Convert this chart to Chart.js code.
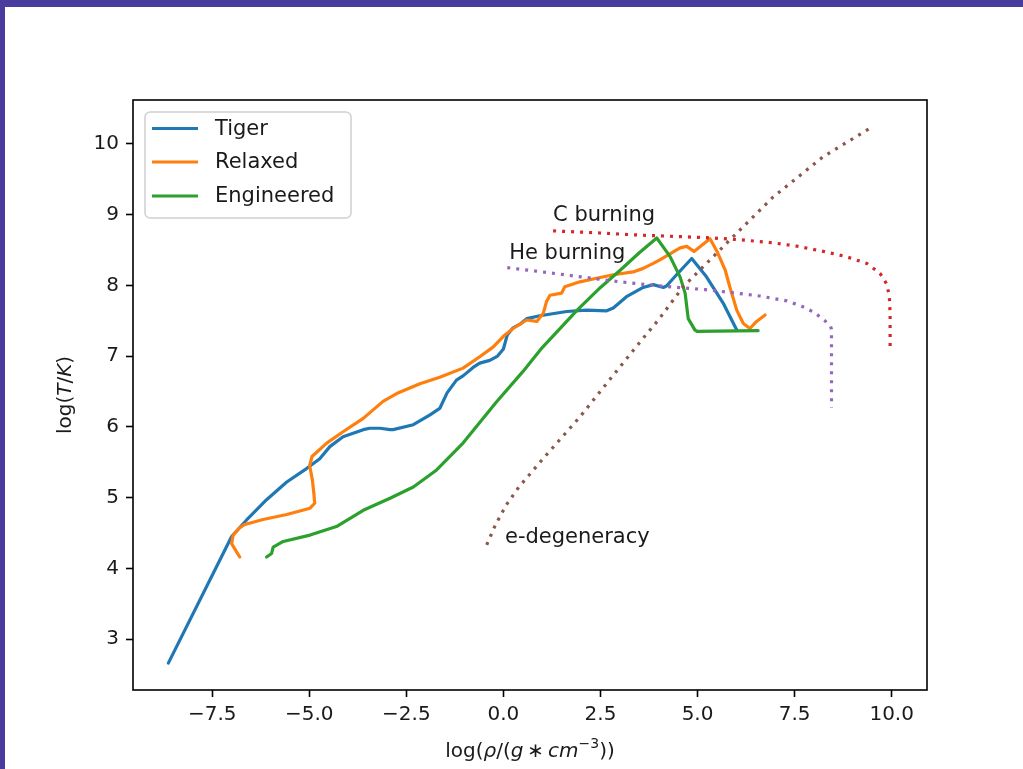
<!DOCTYPE html>
<html>
<head>
<meta charset="utf-8">
<script src="https://cdn.jsdelivr.net/npm/chart.js@4"></script>
<style>
  html, body { margin: 0; padding: 0; background: #ffffff; overflow: hidden; }
  #wrap { position: relative; width: 1023px; height: 769px; }
  #plot { position: absolute; left: 0; top: 0; }
  .band { position: absolute; background: #4a3c9f; }
</style>
</head>
<body>
<div id="wrap">
  <canvas id="plot" width="1023" height="769"></canvas>
  <div class="band" style="left:0;top:0;width:1023px;height:7px;"></div>
  <div class="band" style="left:0;top:0;width:5px;height:769px;"></div>
</div>
<script>
// Axis ticks
const rhoTicks = [-7.5, -5, -2.5, 0, 2.5, 5, 7.5, 10];
const tempTicks = [3, 4, 5, 6, 7, 8, 9, 10];

// Tiger track: log density / log temperature
const tigerLogRho = [-8.63, -7.00, -6.62, -6.10, -5.58, -5.07, -4.73, -4.47, -4.13, -3.61, -3.44, -3.18, -2.92, -2.84, -2.32, -1.89, -1.64, -1.45, -1.21, -1.04, -0.78, -0.61, -0.35, -0.15, 0.00, 0.10, 0.25, 0.45, 0.60, 0.94, 1.63, 2.14, 2.66, 2.83, 3.17, 3.60, 3.86, 4.12, 4.20, 4.46, 4.85, 5.23, 5.66, 6.01];
const tigerLogT   = [2.66, 4.45, 4.68, 4.97, 5.22, 5.41, 5.55, 5.72, 5.86, 5.96, 5.98, 5.98, 5.96, 5.96, 6.03, 6.17, 6.26, 6.48, 6.66, 6.72, 6.84, 6.90, 6.94, 7.00, 7.10, 7.30, 7.40, 7.46, 7.53, 7.57, 7.63, 7.65, 7.64, 7.68, 7.84, 7.97, 8.01, 7.97, 7.99, 8.15, 8.38, 8.12, 7.75, 7.37];

// Relaxed track
const relaxedLogRho = [-6.79, -6.87, -7.00, -6.96, -6.80, -6.66, -6.19, -5.58, -4.98, -4.86, -4.88, -4.92, -4.99, -4.93, -4.55, -4.13, -3.61, -3.10, -2.75, -2.15, -1.64, -1.04, -0.61, -0.26, 0.00, 0.25, 0.60, 0.86, 1.03, 1.11, 1.20, 1.50, 1.58, 1.97, 2.40, 2.83, 3.34, 3.60, 3.86, 4.03, 4.55, 4.72, 4.91, 5.32, 5.51, 5.71, 5.83, 6.01, 6.09, 6.18, 6.35, 6.52, 6.74];
const relaxedLogT   = [4.16, 4.23, 4.35, 4.47, 4.57, 4.62, 4.69, 4.76, 4.85, 4.92, 5.05, 5.25, 5.45, 5.58, 5.77, 5.93, 6.12, 6.36, 6.47, 6.61, 6.70, 6.83, 6.99, 7.13, 7.28, 7.39, 7.51, 7.49, 7.61, 7.77, 7.86, 7.89, 7.98, 8.05, 8.10, 8.15, 8.19, 8.24, 8.31, 8.36, 8.53, 8.55, 8.48, 8.66, 8.47, 8.22, 7.98, 7.65, 7.56, 7.46, 7.39, 7.49, 7.58];

// Engineered track
const engineeredLogRho = [-6.10, -5.97, -5.93, -5.67, -4.98, -4.30, -3.61, -2.92, -2.32, -1.72, -1.04, -0.18, 0.50, 1.00, 1.90, 2.50, 3.00, 3.50, 3.95, 4.29, 4.55, 4.68, 4.76, 4.93, 4.98, 6.56];
const engineeredLogT   = [4.16, 4.21, 4.30, 4.38, 4.47, 4.59, 4.82, 4.99, 5.15, 5.39, 5.77, 6.35, 6.78, 7.12, 7.65, 7.97, 8.21, 8.46, 8.67, 8.41, 8.12, 7.89, 7.53, 7.37, 7.35, 7.36];

// Helium ignition curve
const heLogRho = [0.10, 1.00, 2.00, 3.00, 3.70, 4.50, 5.20, 6.00, 6.60, 7.30, 7.70, 8.00, 8.28, 8.42, 8.45, 8.45, 8.45];
const heLogT   = [8.25, 8.19, 8.12, 8.05, 8.01, 7.97, 7.94, 7.89, 7.85, 7.78, 7.70, 7.62, 7.50, 7.43, 7.38, 7.00, 6.27];

// Carbon ignition curve
const cLogRho = [1.28, 2.50, 3.52, 4.50, 5.40, 6.20, 6.95, 7.60, 8.24, 8.80, 9.36, 9.70, 9.87, 9.94, 9.96, 9.96];
const cLogT   = [8.77, 8.74, 8.71, 8.69, 8.67, 8.64, 8.60, 8.55, 8.48, 8.41, 8.31, 8.17, 8.02, 7.85, 7.60, 7.13];

// Electron degeneracy boundary
const degLogRho = [-0.43, -0.20, 0.08, 0.40, 0.68, 1.07, 1.97, 2.83, 3.52, 3.99, 4.63, 5.83, 6.95, 8.24, 9.53];
const degLogT   = [4.33, 4.62, 4.90, 5.15, 5.33, 5.58, 6.14, 6.73, 7.20, 7.51, 7.98, 8.64, 9.25, 9.82, 10.25];

// Curve annotations: [text, logRho, logT] (left / baseline anchor)
const curveLabels = [
  ['C burning', 1.28, 8.91],
  ['He burning', 0.15, 8.37],
  ['e-degeneracy', 0.04, 4.36]
];

const FONT = '"DejaVu Sans", "Liberation Sans", sans-serif';
const TEXT = '#1a1a1a';

function pts(xs, ys) { return xs.map((x, i) => ({ x: x, y: ys[i] })); }

const solid = (label, xs, ys, color, order) => ({
  label, data: pts(xs, ys), showLine: true, borderColor: color, backgroundColor: color,
  borderWidth: 3.2, pointRadius: 0, tension: 0, fill: false, order,
  borderCapStyle: 'round', borderJoinStyle: 'round'
});
const dotted = (label, xs, ys, color, order) => ({
  label, data: pts(xs, ys), showLine: true, borderColor: color, backgroundColor: color,
  borderWidth: 3.2, pointRadius: 0, tension: 0, fill: false, order,
  borderDash: [3, 6], borderCapStyle: 'butt'
});

const datasets = [
  solid('Tiger', tigerLogRho, tigerLogT, '#1f77b4', 5),
  solid('Relaxed', relaxedLogRho, relaxedLogT, '#ff7f0e', 4),
  solid('Engineered', engineeredLogRho, engineeredLogT, '#2ca02c', 3),
  dotted('He', heLogRho, heLogT, '#9467bd', 2),
  dotted('C', cLogRho, cLogT, '#d62728', 1),
  dotted('deg', degLogRho, degLogT, '#8c564b', 0)
];
const legendCount = 3;

function fmtRho(v) { return v.toFixed(1).replace('-', '\u2212'); }

// Draw a run of text pieces with mixed styles
function richWidth(ctx, parts, size) {
  let w = 0;
  for (const p of parts) {
    const s = p[1] === 'sup' ? size * 0.7 : size;
    ctx.font = (p[1] === 'italic' ? 'italic ' : '') + s + 'px ' + FONT;
    w += ctx.measureText(p[0]).width;
  }
  return w;
}
function drawRich(ctx, parts, x, y, size) {
  ctx.textAlign = 'left';
  ctx.textBaseline = 'alphabetic';
  for (const p of parts) {
    const sup = p[1] === 'sup';
    const s = sup ? size * 0.7 : size;
    ctx.font = (p[1] === 'italic' ? 'italic ' : '') + s + 'px ' + FONT;
    ctx.fillText(p[0], x, sup ? y - size * 0.45 : y);
    x += ctx.measureText(p[0]).width;
  }
}

const xTitle = [['log(', 'n'], ['\u03c1', 'italic'], ['/(', 'n'], ['g', 'italic'], ['\u2009\u2217\u2009', 'n'], ['cm', 'italic'], ['\u22123', 'sup'], ['))', 'n']];
const yTitle = [['log(', 'n'], ['T', 'italic'], ['/', 'n'], ['K', 'italic'], [')', 'n']];

const decor = {
  id: 'decor',
  afterDatasetsDraw(chart) {
    const ctx = chart.ctx;
    const a = chart.chartArea;
    const xs = chart.scales.x, ys = chart.scales.y;
    ctx.save();
    // curve annotations
    ctx.fillStyle = TEXT;
    ctx.font = '21px ' + FONT;
    ctx.textAlign = 'left';
    ctx.textBaseline = 'alphabetic';
    for (const [t, r, T] of curveLabels) {
      ctx.fillText(t, xs.getPixelForValue(r), ys.getPixelForValue(T));
    }
    // frame
    ctx.strokeStyle = '#000';
    ctx.lineWidth = 1.6;
    ctx.strokeRect(a.left, a.top, a.right - a.left, a.bottom - a.top);

    // legend
    const lx = 145, ly = 112, lw = 206, lh = 106, rad = 5;
    ctx.beginPath();
    ctx.moveTo(lx + rad, ly);
    ctx.arcTo(lx + lw, ly, lx + lw, ly + lh, rad);
    ctx.arcTo(lx + lw, ly + lh, lx, ly + lh, rad);
    ctx.arcTo(lx, ly + lh, lx, ly, rad);
    ctx.arcTo(lx, ly, lx + lw, ly, rad);
    ctx.closePath();
    ctx.fillStyle = 'rgba(255,255,255,0.8)';
    ctx.fill();
    ctx.strokeStyle = '#d0d0d0';
    ctx.lineWidth = 1.5;
    ctx.stroke();
    const rows = [128.5, 162, 196];
    for (let i = 0; i < legendCount; i++) {
      const ds = chart.data.datasets[i];
      ctx.strokeStyle = ds.borderColor;
      ctx.lineWidth = 3.2;
      ctx.lineCap = 'butt';
      ctx.beginPath();
      ctx.moveTo(152, rows[i]);
      ctx.lineTo(198, rows[i]);
      ctx.stroke();
      ctx.fillStyle = TEXT;
      ctx.font = '21px ' + FONT;
      ctx.textAlign = 'left';
      ctx.textBaseline = 'middle';
      ctx.fillText(ds.label, 215, rows[i] + 1);
    }

    // axis titles
    ctx.fillStyle = TEXT;
    const size = 20;
    const wx = richWidth(ctx, xTitle, size);
    drawRich(ctx, xTitle, (a.left + a.right) / 2 - wx / 2, 757, size);
    const wy = richWidth(ctx, yTitle, size);
    ctx.translate(71, (a.top + a.bottom) / 2);
    ctx.rotate(-Math.PI / 2);
    drawRich(ctx, yTitle, -wy / 2, 0, size);
    ctx.restore();
  }
};

new Chart(document.getElementById('plot'), {
  type: 'scatter',
  data: { datasets },
  options: {
    responsive: false,
    animation: false,
    events: [],
    layout: { padding: { left: 0, top: 100, right: 96, bottom: 0 } },
    plugins: { legend: { display: false }, tooltip: { enabled: false } },
    scales: {
      x: {
        type: 'linear', min: -9.54, max: 10.91,
        afterBuildTicks: s => { s.ticks = rhoTicks.map(v => ({ value: v })); },
        afterFit: s => { s.height = 79; },
        border: { display: false },
        grid: { display: true, drawOnChartArea: false, drawTicks: true, tickLength: 7, tickWidth: 1.6, tickColor: '#000' },
        ticks: { color: TEXT, font: { family: FONT, size: 20 }, padding: 6, maxRotation: 0, autoSkip: false, callback: v => fmtRho(v) }
      },
      y: {
        type: 'linear', min: 2.28, max: 10.62,
        afterBuildTicks: s => { s.ticks = tempTicks.map(v => ({ value: v })); },
        afterFit: s => { s.width = 133; },
        border: { display: false },
        grid: { display: true, drawOnChartArea: false, drawTicks: true, tickLength: 7, tickWidth: 1.6, tickColor: '#000' },
        ticks: { color: TEXT, font: { family: FONT, size: 20 }, padding: 7, autoSkip: false, callback: v => String(v) }
      }
    }
  },
  plugins: [decor]
});
</script>
</body>
</html>
